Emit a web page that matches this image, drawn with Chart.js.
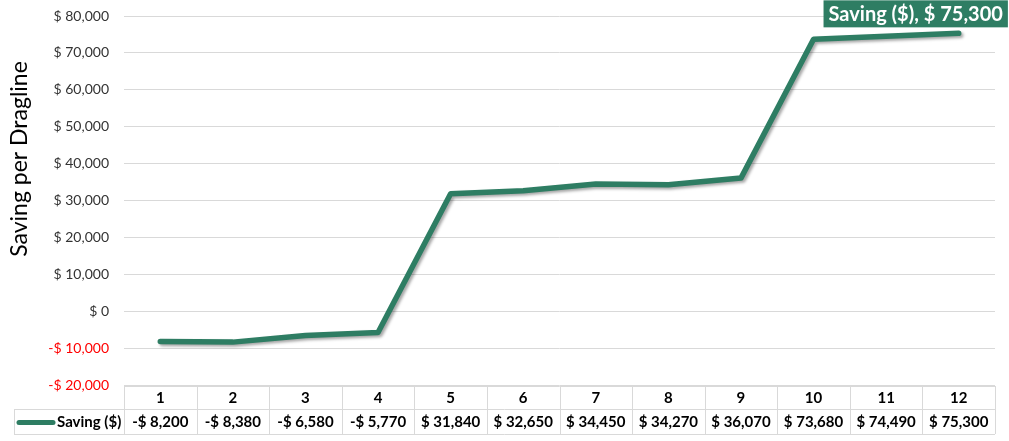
<!DOCTYPE html>
<html>
<head>
<meta charset="utf-8">
<title>Saving per Dragline</title>
<script src="https://cdn.jsdelivr.net/npm/chart.js"></script>
<style>
  html, body { margin: 0; padding: 0; background: #fff; }
  #wrap { width: 1009px; height: 441px; }
</style>
</head>
<body>
<div id="wrap"><canvas id="chart"></canvas></div>
<script>
const categories = ['1', '2', '3', '4', '5', '6', '7', '8', '9', '10', '11', '12'];
const savings = [-8200, -8380, -6580, -5770, 31840, 32650, 34450, 34270, 36070, 73680, 74490, 75300];
const seriesName = 'Saving ($)';
const yTitle = 'Saving per Dragline';

const green = '#2E7D63';
const gridColor = '#d9d9d9';
const fontFamily = 'Lato, "Open Sans", sans-serif';

function money(v) {
  const s = '$ ' + Math.abs(v).toLocaleString('en-US');
  return v < 0 ? '-' + s : s;
}

// Tabela danych pod wykresem + tytul osi + etykieta ostatniego punktu
const extras = {
  id: 'extras',
  beforeDatasetDraw(chart) {
    const ctx = chart.ctx;
    ctx.save();
    ctx.shadowColor = 'rgba(0,0,0,0.35)';
    ctx.shadowBlur = 3;
    ctx.shadowOffsetX = 2;
    ctx.shadowOffsetY = 2;
  },
  afterDatasetDraw(chart) {
    chart.ctx.restore();
  },
  afterDraw(chart) {
    const ctx = chart.ctx;
    const area = chart.chartArea;
    const x = chart.scales.x;
    const n = categories.length;
    const colW = (area.right - area.left) / n;
    const top = area.bottom + 1;
    const mid = top + 23;
    const bot = mid + 25;
    const tableLeft = 14;

    ctx.save();
    ctx.strokeStyle = gridColor;
    ctx.lineWidth = 1;
    ctx.beginPath();
    ctx.moveTo(area.left, top + 0.5); ctx.lineTo(area.right, top + 0.5);
    ctx.moveTo(tableLeft, mid + 0.5); ctx.lineTo(area.right, mid + 0.5);
    ctx.moveTo(tableLeft, bot + 0.5); ctx.lineTo(area.right, bot + 0.5);
    ctx.moveTo(tableLeft + 0.5, mid); ctx.lineTo(tableLeft + 0.5, bot);
    for (let i = 0; i <= n; i++) {
      const bx = Math.round(area.left + i * colW) + 0.5;
      ctx.moveTo(bx, top); ctx.lineTo(bx, bot);
    }
    ctx.stroke();

    ctx.fillStyle = '#000';
    ctx.textAlign = 'center';
    ctx.textBaseline = 'middle';
    ctx.font = 'bold 15px ' + fontFamily;
    categories.forEach((c, i) => {
      const cx = x.getPixelForValue(i);
      ctx.fillText(c, cx, (top + mid) / 2 + 1);
      ctx.fillText(money(savings[i]), cx, (mid + bot) / 2 + 1);
    });

    // legenda w tabeli
    ctx.strokeStyle = green;
    ctx.lineWidth = 5;
    ctx.lineCap = 'round';
    ctx.beginPath();
    ctx.moveTo(19, (mid + bot) / 2 + 1);
    ctx.lineTo(53, (mid + bot) / 2 + 1);
    ctx.stroke();
    ctx.textAlign = 'left';
    ctx.fillText(seriesName, 57, (mid + bot) / 2 + 1);

    // tytul osi Y
    ctx.save();
    ctx.translate(20, 159);
    ctx.rotate(-Math.PI / 2);
    ctx.textAlign = 'center';
    ctx.font = '23px ' + fontFamily;
    ctx.fillStyle = '#000';
    ctx.fillText(yTitle, 0, 0);
    ctx.restore();

    // etykieta ostatniego punktu
    const meta = chart.getDatasetMeta(0);
    const last = meta.data[meta.data.length - 1];
    const label = seriesName + ', ' + money(savings[savings.length - 1]);
    ctx.font = 'bold 20px ' + fontFamily;
    const tw = ctx.measureText(label).width;
    const bw = tw + 10;
    const bh = 27;
    let bx = last.x - 43 - bw / 2;
    if (bx + bw > chart.width) bx = chart.width - bw;
    const by = Math.max(0, last.y - 6 - bh);
    ctx.fillStyle = green;
    ctx.fillRect(bx, by, bw, bh);
    ctx.fillStyle = '#fff';
    ctx.textAlign = 'center';
    ctx.fillText(label, bx + bw / 2, by + bh / 2 + 1);
    ctx.restore();
  }
};

new Chart(document.getElementById('chart'), {
  type: 'line',
  data: {
    labels: categories,
    datasets: [{
      label: seriesName,
      data: savings,
      borderColor: green,
      borderWidth: 5.5,
      pointRadius: 0,
      tension: 0,
      borderCapStyle: 'round',
      borderJoinStyle: 'round',
      fill: false
    }]
  },
  options: {
    responsive: true,
    maintainAspectRatio: false,
    animation: false,
    layout: { padding: { top: 16, right: 14, bottom: 56, left: 0 } },
    plugins: {
      legend: { display: false },
      tooltip: { enabled: false }
    },
    scales: {
      x: {
        display: false,
        offset: true
      },
      y: {
        min: -20000,
        max: 80000,
        afterFit: s => { s.width = 124; s.paddingTop = 0; s.paddingBottom = 0; },
        border: { display: false },
        grid: { color: gridColor, drawTicks: false },
        ticks: {
          stepSize: 10000,
          padding: 15,
          font: { family: fontFamily, size: 14 },
          color: ctx => ctx.tick.value < 0 ? '#ff0000' : '#333333',
          callback: v => money(v)
        }
      }
    }
  },
  plugins: [extras]
});
</script>
</body>
</html>
